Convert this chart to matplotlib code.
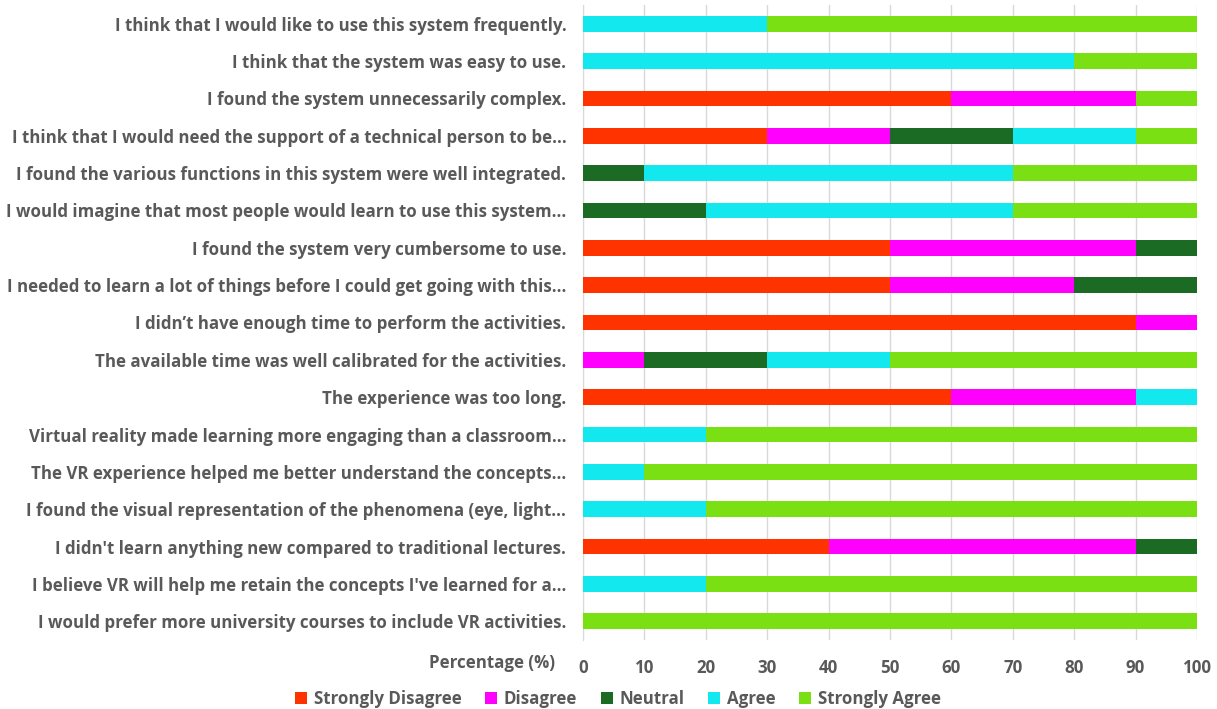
import matplotlib
matplotlib.use("Agg")
import matplotlib.pyplot as plt
import numpy as np

categories = [
    "I think that I would like to use this system frequently.",
    "I think that the system was easy to use.",
    "I found the system unnecessarily complex.",
    "I think that I would need the support of a technical person to be...",
    "I found the various functions in this system were well integrated.",
    "I would imagine that most people would learn to use this system...",
    "I found the system very cumbersome to use.",
    "I needed to learn a lot of things before I could get going with this...",
    "I didn\u2019t have enough time to perform the activities.",
    "The available time was well calibrated for the activities.",
    "The experience was too long.",
    "Virtual reality made learning more engaging than a classroom...",
    "The VR experience helped me better understand the concepts...",
    "I found the visual representation of the phenomena (eye, light...",
    "I didn't learn anything new compared to traditional lectures.",
    "I believe VR will help me retain the concepts I've learned for a...",
    "I would prefer more university courses to include VR activities.",
]
series_names = ["Strongly Disagree", "Disagree", "Neutral", "Agree", "Strongly Agree"]
strongly_disagree = [0, 0, 60, 30, 0, 0, 50, 50, 90, 0, 60, 0, 0, 0, 40, 0, 0]
disagree          = [0, 0, 30, 20, 0, 0, 40, 30, 10, 10, 30, 0, 0, 0, 50, 0, 0]
neutral           = [0, 0, 0, 20, 10, 20, 10, 20, 0, 20, 0, 0, 0, 0, 10, 0, 0]
agree             = [30, 80, 0, 20, 60, 50, 0, 0, 0, 20, 10, 20, 10, 20, 0, 20, 0]
strongly_agree    = [70, 20, 10, 10, 30, 30, 0, 0, 0, 50, 0, 80, 90, 80, 0, 80, 100]
colors = ["#FF3300", "#FF00FF", "#1B6B25", "#12E8EE", "#7AE014"]
xticks = [0, 10, 20, 30, 40, 50, 60, 70, 80, 90, 100]

plt.rcParams['font.family'] = ['Open Sans', 'DejaVu Sans']
txt = "#595959"
fs = 12.2

fig = plt.figure(figsize=(12.17, 7.09), dpi=100)
ax = fig.add_axes([583/1217, 1-640/709, (1197-583)/1217, (640-5)/709])

y = np.arange(len(categories))
left = np.zeros(len(categories))
for name, vals, c in zip(series_names,
                         [strongly_disagree, disagree, neutral, agree, strongly_agree], colors):
    vals = np.array(vals, dtype=float)
    ax.barh(y, vals, left=left, height=0.42, color=c, label=name, zorder=3)
    left += vals

ax.set_ylim(len(categories) - 0.5, -0.5)
ax.set_xlim(0, 100)
ax.set_xticks(xticks)
ax.set_yticks(y)
ax.set_yticklabels(categories)
ax.grid(axis='x', color="#D9D9D9", linewidth=1, zorder=0)
for s in ['top', 'right', 'bottom']:
    ax.spines[s].set_visible(False)
ax.spines['left'].set_color("#D9D9D9")
ax.tick_params(axis='y', length=0, pad=12, labelsize=fs, labelcolor=txt)
ax.tick_params(axis='x', length=0, pad=14, labelsize=fs, labelcolor=txt)
for lab in ax.get_yticklabels() + ax.get_xticklabels():
    lab.set_fontweight('bold')

fig.text(555/1217, 1-663/709, "Percentage (%)", ha='right', va='center',
         fontsize=fs, color=txt, fontweight='bold')

leg = fig.legend(loc='center', bbox_to_anchor=(618/1217, 1-699/709), ncol=5,
                 frameon=False, handlelength=0.7, handleheight=0.7, handletextpad=0.4,
                 columnspacing=1.4, prop={'size': fs, 'weight': 'bold'})
for t in leg.get_texts():
    t.set_color(txt)

fig.savefig("out.png", dpi=100)
